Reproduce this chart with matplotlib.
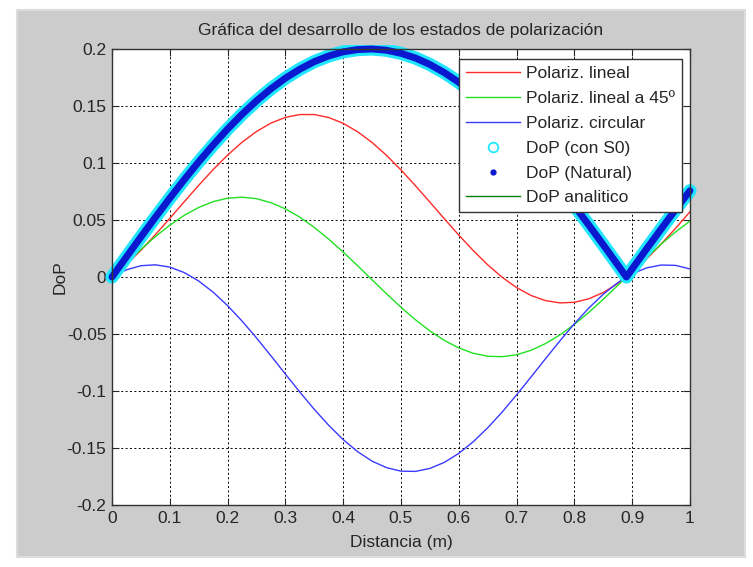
import matplotlib.pyplot as plt
from matplotlib.lines import Line2D
from matplotlib.patches import Rectangle

plt.rcParams['font.family'] = ['Liberation Sans', 'DejaVu Sans']

# datos (distancia en m)
distancia = [0, 0.025, 0.05, 0.075, 0.1, 0.125, 0.15, 0.175, 0.2, 0.225, 0.25, 0.275, 0.3,
             0.325, 0.35, 0.375, 0.4, 0.425, 0.45, 0.475, 0.5, 0.525, 0.55, 0.575, 0.6,
             0.625, 0.65, 0.675, 0.7, 0.725, 0.75, 0.775, 0.8, 0.825, 0.85, 0.875, 0.89,
             0.9, 0.925, 0.95, 0.975, 1.0]
pol_lineal = [0, 0.0110, 0.0234, 0.0371, 0.0514, 0.0660, 0.0804, 0.0942, 0.1069, 0.1182,
              0.1276, 0.1350, 0.1400, 0.1425, 0.1425, 0.1399, 0.1348, 0.1274, 0.1180, 0.1067,
              0.0939, 0.0801, 0.0657, 0.0511, 0.0368, 0.0232, 0.0107, -0.0002, -0.0093,
              -0.0162, -0.0207, -0.0227, -0.0222, -0.0191, -0.0136, -0.0057, 0.0, 0.0042,
              0.0158, 0.0288, 0.0427, 0.0572]
pol_lineal45 = [0, 0.0123, 0.0242, 0.0354, 0.0454, 0.0541, 0.0610, 0.0661, 0.0691, 0.0700,
                0.0687, 0.0652, 0.0598, 0.0525, 0.0435, 0.0332, 0.0219, 0.0099, -0.0025,
                -0.0147, -0.0265, -0.0375, -0.0473, -0.0556, -0.0622, -0.0669, -0.0695,
                -0.0699, -0.0682, -0.0643, -0.0584, -0.0508, -0.0416, -0.0310, -0.0195,
                -0.0074, 0.0, 0.0049, 0.0171, 0.0288, 0.0395, 0.0491]
pol_circular = [0, 0.0063, 0.0099, 0.0107, 0.0087, 0.0039, -0.0035, -0.0133, -0.0251, -0.0386,
                -0.0534, -0.0691, -0.0851, -0.1009, -0.1161, -0.1301, -0.1426, -0.1532,
                -0.1615, -0.1672, -0.1703, -0.1705, -0.1679, -0.1626, -0.1547, -0.1445,
                -0.1323, -0.1185, -0.1034, -0.0877, -0.0717, -0.0560, -0.0410, -0.0272,
                -0.0151, -0.0050, 0.0, 0.0028, 0.0080, 0.0105, 0.0102, 0.0071]
dop = [0, 0.0176, 0.0351, 0.0523, 0.0691, 0.0854, 0.1010, 0.1158, 0.1298, 0.1427, 0.1545,
       0.1651, 0.1744, 0.1823, 0.1889, 0.1939, 0.1975, 0.1995, 0.2000, 0.1989, 0.1962, 0.1921,
       0.1864, 0.1793, 0.1708, 0.1610, 0.1499, 0.1376, 0.1243, 0.1100, 0.0948, 0.0790, 0.0625,
       0.0455, 0.0282, 0.0106, 0.0, 0.0071, 0.0247, 0.0420, 0.0591, 0.0757]

x_ticks = [0, 0.1, 0.2, 0.3, 0.4, 0.5, 0.6, 0.7, 0.8, 0.9, 1]
x_labels = ['0', '0.1', '0.2', '0.3', '0.4', '0.5', '0.6', '0.7', '0.8', '0.9', '1']
y_ticks = [-0.2, -0.15, -0.1, -0.05, 0, 0.05, 0.1, 0.15, 0.2]
y_labels = ['-0.2', '-0.15', '-0.1', '-0.05', '0', '0.05', '0.1', '0.15', '0.2']
nombres = ['Polariz. lineal', 'Polariz. lineal a 45º', 'Polariz. circular',
           'DoP (con S0)', 'DoP (Natural)', 'DoP analitico']

fig = plt.figure(figsize=(7.53, 5.67), dpi=100, facecolor='white')
# panel gris tipo ventana de matlab
fig.patches.append(Rectangle((0.0226, 0.0176), 0.9668, 0.9647, transform=fig.transFigure,
                             facecolor='#cccccc', edgecolor='#dcdcdc', linewidth=1.5,
                             zorder=-10))
ax = fig.add_axes([0.1487, 0.1093, 0.7676, 0.8043])

ax.plot(distancia, pol_lineal, color='#ff2a2a', lw=1.0)
ax.plot(distancia, pol_lineal45, color='#22e022', lw=1.0)
ax.plot(distancia, pol_circular, color='#3a3aff', lw=1.0)
ax.plot(distancia, dop, color='#008000', lw=1.0)  # analitico, queda debajo

# banda gruesa de DoP: sale un poco por los lados, casi recortada arriba
recorte = Rectangle((-0.03, -0.03), 1.06, 1.038, transform=ax.transAxes,
                    facecolor='none', edgecolor='none')
ax.add_patch(recorte)
for color, grosor in [('#22e6ff', 9.5), ('#0a18d0', 5)]:
    ln, = ax.plot(distancia, dop, color=color, lw=grosor, solid_capstyle='round',
                  solid_joinstyle='round')
    ln.set_clip_path(recorte)

ax.set_xlim(0, 1)
ax.set_ylim(-0.2, 0.2)
ax.set_xticks(x_ticks)
ax.set_xticklabels(x_labels)
ax.set_yticks(y_ticks)
ax.set_yticklabels(y_labels)
ax.tick_params(direction='in', length=5, width=0.8, top=True, right=True,
               labelsize=12.5, pad=4, colors='#262626')
ax.grid(True, color='black', linestyle=(0, (2, 2.5)), linewidth=0.7)
for s in ax.spines.values():
    s.set_color('#333333')
    s.set_linewidth(1.0)

ax.set_title('Gráfica del desarrollo de los estados de polarización', fontsize=12.5,
             color='#262626', pad=10)
ax.set_xlabel('Distancia (m)', fontsize=12.5, color='#262626', labelpad=7)
ax.set_ylabel('DoP', fontsize=12.5, color='#262626', labelpad=-1)

handles = [
    Line2D([], [], color='#ff2a2a', lw=1.0),
    Line2D([], [], color='#22e022', lw=1.0),
    Line2D([], [], color='#3a3aff', lw=1.0),
    Line2D([], [], color='#22e6ff', ls='none', marker='o', markerfacecolor='none',
           markeredgewidth=1.3, markersize=7),
    Line2D([], [], color='#0a18d0', ls='none', marker='.', markersize=7),
    Line2D([], [], color='#008000', lw=1.0),
]
leg = ax.legend(handles, nombres, loc='upper right', bbox_to_anchor=(0.986, 0.978),
                borderaxespad=0, fontsize=12.5, handlelength=3.1, handletextpad=0.35,
                labelspacing=0.56, borderpad=0.4, fancybox=False, framealpha=1)
leg.get_frame().set_edgecolor('#333333')
leg.get_frame().set_linewidth(1.0)
for t in leg.get_texts():
    t.set_color('#262626')

fig.savefig('out.png', dpi=100, facecolor=fig.get_facecolor())
